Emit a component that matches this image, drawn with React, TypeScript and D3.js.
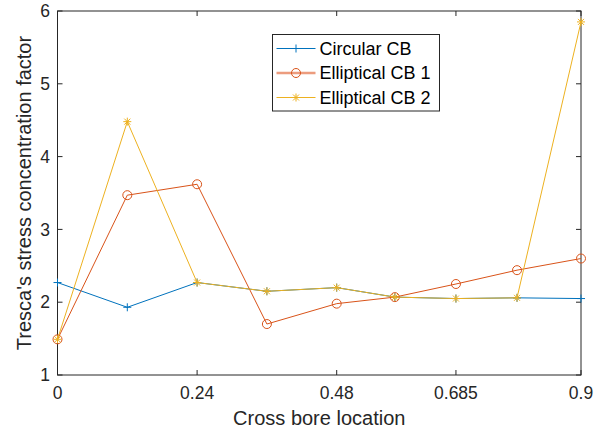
import React from "react";
import * as d3 from "d3";

const locations = [0, 0.12, 0.24, 0.36, 0.48, 0.58, 0.685, 0.79, 0.9];
const circularCB = [2.27, 1.93, 2.27, 2.15, 2.2, 2.07, 2.05, 2.06, 2.05];
const ellipticalCB1 = [1.49, 3.47, 3.62, 1.7, 1.98, 2.07, 2.25, 2.44, 2.6];
const ellipticalCB2 = [1.49, 4.48, 2.27, 2.15, 2.2, 2.07, 2.05, 2.06, 5.85];
const xTicks = [0, 0.24, 0.48, 0.685, 0.9];
const xTickLabels = ["0", "0.24", "0.48", "0.685", "0.9"];
const yTicks = [1, 2, 3, 4, 5, 6];
const seriesNames = ["Circular CB", "Elliptical CB 1", "Elliptical CB 2"];

const W = 601;
const H = 434;
const left = 57.5;
const right = 581;
const top = 11;
const bottom = 375;
const axisColor = "#262626";
const font = "'Liberation Sans', Arial, Helvetica, sans-serif";

type Marker = "plus" | "circle" | "star";

const series: { name: string; values: number[]; color: string; marker: Marker; legendColor: string; legendWidth: number }[] = [
  { name: seriesNames[0], values: circularCB, color: "#0072BD", marker: "plus", legendColor: "#0072BD", legendWidth: 1 },
  { name: seriesNames[1], values: ellipticalCB1, color: "#D95319", marker: "circle", legendColor: "#EC9C7E", legendWidth: 2.5 },
  { name: seriesNames[2], values: ellipticalCB2, color: "#EDB120", marker: "star", legendColor: "#EDB120", legendWidth: 1 },
];

function MarkerShape({ kind, x, y, color }: { kind: Marker; x: number; y: number; color: string }) {
  if (kind === "plus") {
    const s = 4;
    return (
      <path d={`M${x - s},${y}H${x + s}M${x},${y - s}V${y + s}`} stroke={color} strokeWidth={1} fill="none" />
    );
  }
  if (kind === "circle") {
    return <circle cx={x} cy={y} r={4.5} stroke={color} strokeWidth={1} fill="none" />;
  }
  const s = 4;
  const d = s * 0.75;
  return (
    <path
      d={`M${x - s},${y}H${x + s}M${x},${y - s}V${y + s}M${x - d},${y - d}L${x + d},${y + d}M${x - d},${y + d}L${x + d},${y - d}`}
      stroke={color}
      strokeWidth={1}
      fill="none"
    />
  );
}

export default function App() {
  const x = d3.scaleLinear().domain([0, 0.9]).range([left, right]);
  const y = d3.scaleLinear().domain([1, 6]).range([bottom, top]);
  const line = d3
    .line<number>()
    .x((_, i) => x(locations[i]))
    .y((v) => y(v));

  const tickLen = 5;
  const legX = 272.5;
  const legY = 34.5;
  const legW = 167;
  const legH = 76.5;
  const rowY = [48.5, 73, 97.5];

  return (
    <svg
      width={W}
      height={H}
      style={{ position: "absolute", left: 0, top: 0, background: "#fff" }}
      fontFamily={font}
    >
      <rect x={0} y={0} width={W} height={H} fill="#fff" />
      {/* axes box */}
      <rect x={left} y={top} width={right - left} height={bottom - top} fill="#fff" stroke={axisColor} strokeWidth={1} />

      {/* ticks */}
      {xTicks.map((t, i) => (
        <g key={"xt" + i}>
          <line x1={x(t)} x2={x(t)} y1={bottom} y2={bottom - tickLen} stroke={axisColor} />
          <line x1={x(t)} x2={x(t)} y1={top} y2={top + tickLen} stroke={axisColor} />
          <text x={x(t)} y={399} textAnchor="middle" fontSize={17.5} fill={axisColor}>
            {xTickLabels[i]}
          </text>
        </g>
      ))}
      {yTicks.map((t, i) => (
        <g key={"yt" + i}>
          <line x1={left} x2={left + tickLen} y1={y(t)} y2={y(t)} stroke={axisColor} />
          <line x1={right} x2={right - tickLen} y1={y(t)} y2={y(t)} stroke={axisColor} />
          <text x={50} y={y(t)} dy="0.35em" textAnchor="end" fontSize={17.5} fill={axisColor}>
            {t}
          </text>
        </g>
      ))}

      {/* series */}
      {series.map((s) => (
        <g key={s.name}>
          <path d={line(s.values) || ""} fill="none" stroke={s.color} strokeWidth={1} />
          {s.values.map((v, i) => (
            <MarkerShape key={i} kind={s.marker} x={x(locations[i])} y={y(v)} color={s.color} />
          ))}
        </g>
      ))}

      {/* axis labels */}
      <text x={(left + right) / 2} y={425} textAnchor="middle" fontSize={20} fill={axisColor}>
        Cross bore location
      </text>
      <text
        transform={`translate(31, ${(top + bottom) / 2}) rotate(-90)`}
        textAnchor="middle"
        fontSize={20}
        fill={axisColor}
      >
        Tresca's stress concentration factor
      </text>

      {/* legend */}
      <rect x={legX} y={legY} width={legW} height={legH} fill="#fff" stroke={axisColor} strokeWidth={1} />
      {series.map((s, i) => (
        <g key={"lg" + i}>
          <line x1={276.5} x2={315.5} y1={rowY[i]} y2={rowY[i]} stroke={s.legendColor} strokeWidth={s.legendWidth} />
          <MarkerShape kind={s.marker} x={296} y={rowY[i]} color={s.color} />
          <text x={319.5} y={rowY[i]} dy="0.35em" fontSize={18} fill="#000">
            {s.name}
          </text>
        </g>
      ))}
    </svg>
  );
}
